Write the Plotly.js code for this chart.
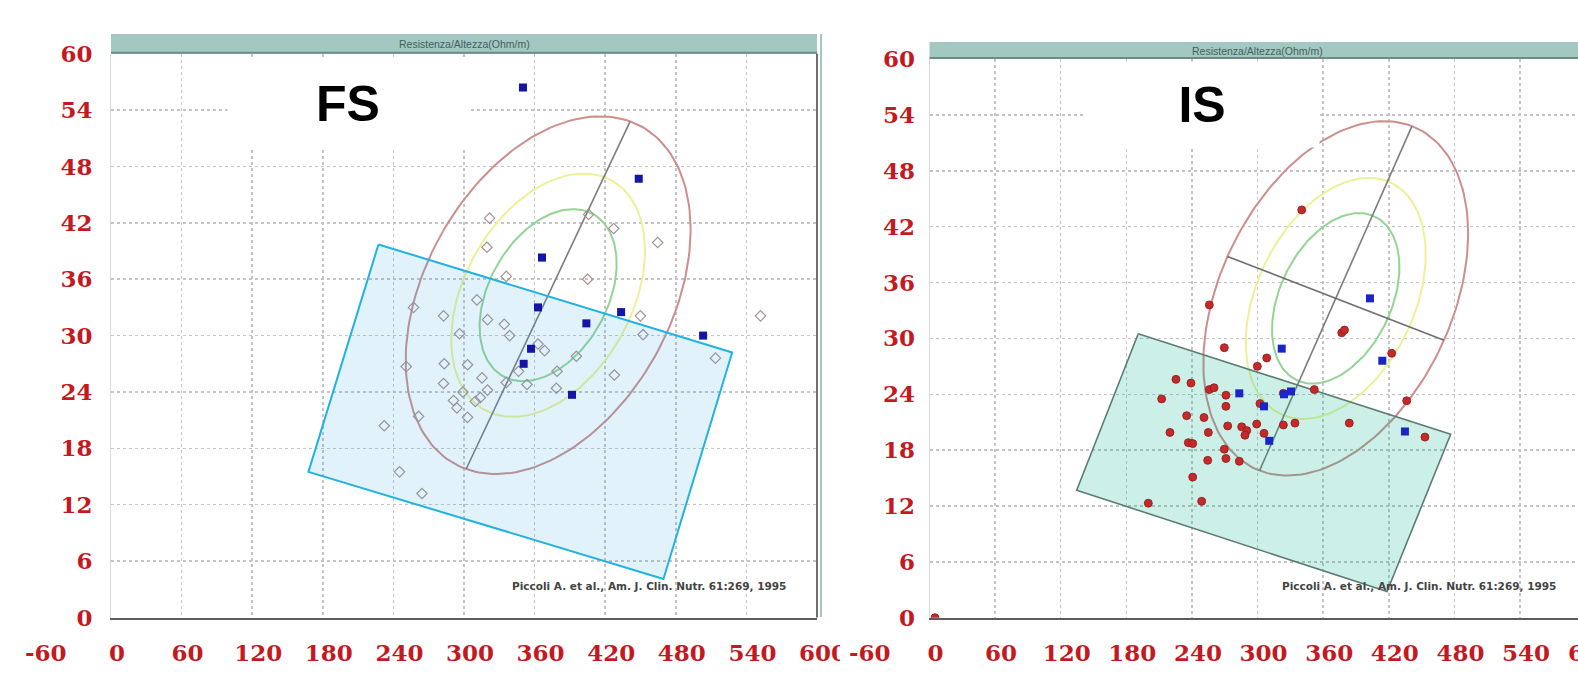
<!DOCTYPE html>
<html>
<head>
<meta charset="utf-8">
<script src="https://cdn.plot.ly/plotly-3.0.1.min.js"></script>
<style>
html,body{margin:0;padding:0;background:#ffffff;}
#chart{width:1578px;height:673px;}
</style>
</head>
<body>
<div id="chart"></div>
<script>
// ---------------- data ----------------
const xTicks = [0, 60, 120, 180, 240, 300, 360, 420, 480, 540, 600];
const yTicks = [0, 6, 12, 18, 24, 30, 36, 42, 48, 54, 60];
const headerText = "Resistenza/Altezza(Ohm/m)";
const citation = "Piccoli A. et al., Am. J. Clin. Nutr. 61:269, 1995";
const panelLabels = ["FS", "IS"];

// reference tolerance ellipse (R/H, Xc/H), shared by both panels
const ellipseCenter = [371.5, 34.3];
const ellipseMajorHalf = [69.7, 18.5];   // half major axis of the 95% ellipse
const ellipseMinorHalf = [99.0, -4.5];   // conjugate half axis of the 95% ellipse
const ellipseLevels = ["95%", "75%", "50%"];
const ellipseScale = [1.0, 0.680, 0.481];

// FS panel
const fsBoxX = [227.3, 167.8, 469.5, 527.9, 227.3];
const fsBoxY = [39.7, 15.5, 4.1, 28.2, 39.7];
const fsOpenX = [321.7, 427.2, 405.9, 464.6, 319.5, 335.9, 405.1, 449.9, 452.2, 513.7,
                 311.0, 257.1, 282.6, 320.0, 334.2, 296.2, 338.8, 368.5, 362.9, 250.9,
                 283.2, 303.0, 395.5, 379.1, 346.4, 427.8, 282.6, 315.3, 335.9, 353.5,
                 320.0, 299.1, 313.8, 309.6, 291.1, 294.0, 303.0, 378.5, 261.4, 232.2,
                 245.2, 264.3, 552.0];
const fsOpenY = [42.5, 41.4, 42.9, 39.9, 39.4, 36.3, 36.0, 32.1, 30.1, 27.6,
                 33.8, 33.0, 32.1, 31.7, 31.2, 30.2, 30.0, 28.4, 29.1, 26.7,
                 27.0, 26.9, 27.8, 26.2, 26.2, 25.8, 24.9, 25.5, 25.0, 24.8,
                 24.2, 24.0, 23.4, 23.0, 23.1, 22.3, 21.3, 24.4, 21.4, 20.4,
                 15.5, 13.2, 32.1];
const fsBlueX = [350.1, 448.5, 366.3, 362.9, 433.5, 404.0, 503.2, 357.0, 350.7, 391.8];
const fsBlueY = [56.4, 46.7, 38.3, 33.0, 32.5, 31.3, 30.0, 28.6, 27.0, 23.7];

// IS panel
const isBoxX = [190.9, 134.6, 418.4, 476.6, 190.9];
const isBoxY = [30.5, 13.7, 2.8, 19.7, 30.5];
const isRedX = [340.4, 255.9, 377.0, 379.5, 269.6, 308.4, 299.8, 422.7, 225.4, 239.1,
                255.9, 260.2, 212.3, 271.1, 271.1, 351.9, 436.4, 323.6, 302.2, 235.2,
                251.0, 219.9, 255.0, 272.7, 285.5, 290.1, 288.5, 299.2, 323.6, 334.2,
                305.9, 383.9, 453.1, 236.7, 240.7, 269.6, 254.4, 271.1, 283.3, 240.7,
                248.9, 200.1, 5.0];
const isRedY = [43.8, 33.6, 30.6, 30.9, 29.0, 27.9, 27.0, 28.4, 25.6, 25.2,
                24.5, 24.7, 23.5, 23.9, 22.7, 24.5, 23.3, 24.1, 23.0, 21.7,
                21.5, 19.9, 19.9, 20.6, 20.5, 20.1, 19.6, 20.8, 20.7, 20.9,
                19.8, 20.9, 19.4, 18.8, 18.7, 18.1, 16.9, 17.1, 16.8, 15.1,
                12.5, 12.3, 0.0];
const isBlueX = [402.8, 322.1, 414.1, 283.3, 330.6, 324.2, 305.9, 310.7, 434.8];
const isBlueY = [34.3, 28.9, 27.6, 24.1, 24.3, 24.0, 22.7, 19.0, 20.0];

// ---------------- helpers ----------------
function ellipsePath(scale) {
  const xs = [], ys = [];
  const n = 180;
  for (let i = 0; i <= n; i++) {
    const t = 2 * Math.PI * i / n;
    xs.push(ellipseCenter[0] + scale * (ellipseMajorHalf[0] * Math.cos(t) + ellipseMinorHalf[0] * Math.sin(t)));
    ys.push(ellipseCenter[1] + scale * (ellipseMajorHalf[1] * Math.cos(t) + ellipseMinorHalf[1] * Math.sin(t)));
  }
  return {x: xs, y: ys};
}
const ellipseColors = ['#cc8e8e', '#ecf196', '#94d494'];

function ellipseTraces(xa, ya, withMinor) {
  const tr = [];
  ellipseScale.forEach((s, i) => {
    const p = ellipsePath(s);
    tr.push({type: 'scatter', mode: 'lines', x: p.x, y: p.y, xaxis: xa, yaxis: ya,
             name: ellipseLevels[i], line: {color: ellipseColors[i], width: 2}, hoverinfo: 'skip'});
  });
  tr.push({type: 'scatter', mode: 'lines', xaxis: xa, yaxis: ya, hoverinfo: 'skip',
    x: [ellipseCenter[0] - ellipseMajorHalf[0], ellipseCenter[0] + ellipseMajorHalf[0]],
    y: [ellipseCenter[1] - ellipseMajorHalf[1], ellipseCenter[1] + ellipseMajorHalf[1]],
    line: {color: '#7c7c7c', width: 1.6}});
  if (withMinor) {
    tr.push({type: 'scatter', mode: 'lines', xaxis: xa, yaxis: ya, hoverinfo: 'skip',
      x: [ellipseCenter[0] - ellipseMinorHalf[0], ellipseCenter[0] + ellipseMinorHalf[0]],
      y: [ellipseCenter[1] - ellipseMinorHalf[1], ellipseCenter[1] + ellipseMinorHalf[1]],
      line: {color: '#6f6f6f', width: 1.6}});
  }
  return tr;
}

const traces = [];
// FS panel
traces.push(...ellipseTraces('x', 'y', false));
traces.push({type: 'scatter', mode: 'markers', x: fsOpenX, y: fsOpenY, xaxis: 'x', yaxis: 'y',
  marker: {symbol: 'diamond-open', size: 8, color: '#a89292', line: {width: 1.2}}});
traces.push({type: 'scatter', mode: 'lines', x: fsBoxX, y: fsBoxY, xaxis: 'x', yaxis: 'y',
  fill: 'toself', fillcolor: 'rgba(40,160,230,0.14)', line: {color: '#22b2df', width: 2}});
traces.push({type: 'scatter', mode: 'markers', x: fsBlueX, y: fsBlueY, xaxis: 'x', yaxis: 'y',
  marker: {symbol: 'square', size: 8, color: '#1414a6'}});
// IS panel
traces.push(...ellipseTraces('x2', 'y2', true));
traces.push({type: 'scatter', mode: 'lines', x: isBoxX, y: isBoxY, xaxis: 'x2', yaxis: 'y2',
  fill: 'toself', fillcolor: 'rgba(0,180,140,0.2)', line: {color: '#5c7c73', width: 1.6}});
traces.push({type: 'scatter', mode: 'markers', x: isRedX, y: isRedY, xaxis: 'x2', yaxis: 'y2',
  marker: {symbol: 'circle', size: 8, color: '#c42a2a', line: {width: 0.8, color: '#8e1a1a'}}});
traces.push({type: 'scatter', mode: 'markers', x: isBlueX, y: isBlueY, xaxis: 'x2', yaxis: 'y2',
  marker: {symbol: 'square', size: 8, color: '#1a26c4'}});

// ---------------- layout ----------------
const W = 1578, H = 673;
const tickFont = {family: '"DejaVu Serif", serif', size: 23, color: '#c41a1f', weight: 'bold'};
const axBase = {showgrid: true, gridcolor: '#c4c4c4', gridwidth: 1.5, griddash: 'dot',
  zeroline: false, ticks: '', fixedrange: true, tickfont: tickFont, tickmode: 'array'};

const xLeft = Object.assign({}, axBase, {domain: [111 / W, 817 / W], range: [0, 600], anchor: 'y',
  tickvals: xTicks, ticktext: xTicks.map(String), ticklabelshift: 6, ticklabelstandoff: 14,
  showline: true, linecolor: '#5c5c5c', linewidth: 2});
const yLeft = Object.assign({}, axBase, {domain: [(H - 617.5) / H, (H - 53.7) / H], range: [0, 60], anchor: 'x',
  tickvals: yTicks, ticktext: yTicks.map(String), ticklabelstandoff: 13,
  showline: true, linecolor: '#d8d8d8', linewidth: 1});
const xRight = Object.assign({}, xLeft, {domain: [929.5 / W, 1], range: [0, 593.05], anchor: 'y2'});
const yRight = Object.assign({}, yLeft, {domain: [(H - 617.7) / H, (H - 59.1) / H], anchor: 'x2',
  ticklabelstandoff: 9});

const hdrL = 19.7 / 563.8, hdrR = 17.1 / 558.6;
const shapes = [
  // header bars
  {type: 'rect', xref: 'x domain', yref: 'y domain', x0: 0, x1: 1, y0: 1, y1: 1 + hdrL,
   fillcolor: '#a3c8c2', line: {width: 0}, layer: 'above'},
  {type: 'line', xref: 'x domain', yref: 'y domain', x0: 0, x1: 1, y0: 1 + 1 / 563.8, y1: 1 + 1 / 563.8,
   line: {color: '#6b8c87', width: 2}, layer: 'above'},
  {type: 'rect', xref: 'x2 domain', yref: 'y2 domain', x0: 0, x1: 1, y0: 1, y1: 1 + hdrR,
   fillcolor: '#a3c8c2', line: {width: 0}, layer: 'above'},
  {type: 'line', xref: 'x2 domain', yref: 'y2 domain', x0: 0, x1: 1, y0: 1 + 1 / 558.6, y1: 1 + 1 / 558.6,
   line: {color: '#6b8c87', width: 2}, layer: 'above'},
  // right frame of the left plot
  {type: 'line', xref: 'x domain', yref: 'y domain', x0: 1, x1: 1, y0: 0, y1: 1,
   line: {color: '#6e6e6e', width: 2}, layer: 'above'},
  // window border of the left screenshot
  {type: 'line', xref: 'paper', yref: 'paper', x0: 821 / W, x1: 821 / W, y0: (H - 617) / H, y1: (H - 34) / H,
   line: {color: '#a6c6c1', width: 2}, layer: 'above'},
  // overlap of the right screenshot over the last tick label
  {type: 'rect', xref: 'paper', yref: 'paper', x0: 840 / W, x1: 850 / W, y0: 0, y1: (H - 626) / H,
   fillcolor: '#ffffff', line: {width: 0}, layer: 'above'}
];

const citeFont = {family: '"DejaVu Sans", sans-serif', size: 10.5, color: '#444444', weight: 'bold'};
const hdrFont = {family: '"Liberation Sans", Arial, sans-serif', size: 10.5, color: '#44605b'};
const panelFont = {family: '"Liberation Sans", Arial, sans-serif', size: 50, color: '#000000', weight: 'bold'};
const tickLabelY = (H - 652) / H;

const annotations = [
  {xref: 'x', yref: 'y domain', x: 300, y: 1 + hdrL / 2, xanchor: 'center', yanchor: 'middle',
   text: headerText, showarrow: false, font: hdrFont},
  {xref: 'x2', yref: 'y2 domain', x: 300, y: 1 + hdrR / 2, xanchor: 'center', yanchor: 'middle',
   text: headerText, showarrow: false, font: hdrFont},
  {xref: 'x', yref: 'y', x: 575, y: 3.4, xanchor: 'right', yanchor: 'middle', text: citation, showarrow: false, font: citeFont},
  {xref: 'x2', yref: 'y2', x: 575, y: 3.4, xanchor: 'right', yanchor: 'middle', text: citation, showarrow: false, font: citeFont},
  {xref: 'paper', yref: 'paper', x: 348 / W, y: (H - 103.5) / H, xanchor: 'center', yanchor: 'middle',
   text: panelLabels[0], showarrow: false, bgcolor: '#ffffff', width: 240, height: 88, font: panelFont, borderpad: 0},
  {xref: 'paper', yref: 'paper', x: 1202 / W, y: (H - 104.5) / H, xanchor: 'center', yanchor: 'middle',
   text: panelLabels[1], showarrow: false, bgcolor: '#ffffff', width: 234, height: 85, font: panelFont, borderpad: 0},
  {xref: 'x domain', yref: 'paper', x: -60 / 600, y: tickLabelY, xshift: 6, xanchor: 'center', yanchor: 'middle',
   text: '-60', showarrow: false, font: tickFont},
  {xref: 'x2 domain', yref: 'paper', x: -60 / 593.05, y: tickLabelY, xshift: 6, xanchor: 'center', yanchor: 'middle',
   text: '-60', showarrow: false, font: tickFont},
  {xref: 'x2 domain', yref: 'paper', x: 600 / 593.05, y: tickLabelY, xshift: 6, xanchor: 'center', yanchor: 'middle',
   text: '600', showarrow: false, font: tickFont}
];

const layout = {
  width: W, height: H, margin: {l: 0, r: 0, t: 0, b: 0, pad: 0},
  paper_bgcolor: '#ffffff', plot_bgcolor: '#ffffff', showlegend: false,
  xaxis: xLeft, yaxis: yLeft, xaxis2: xRight, yaxis2: yRight,
  shapes: shapes, annotations: annotations
};

Plotly.newPlot('chart', traces, layout, {staticPlot: true, displayModeBar: false});
</script>
</body>
</html>
